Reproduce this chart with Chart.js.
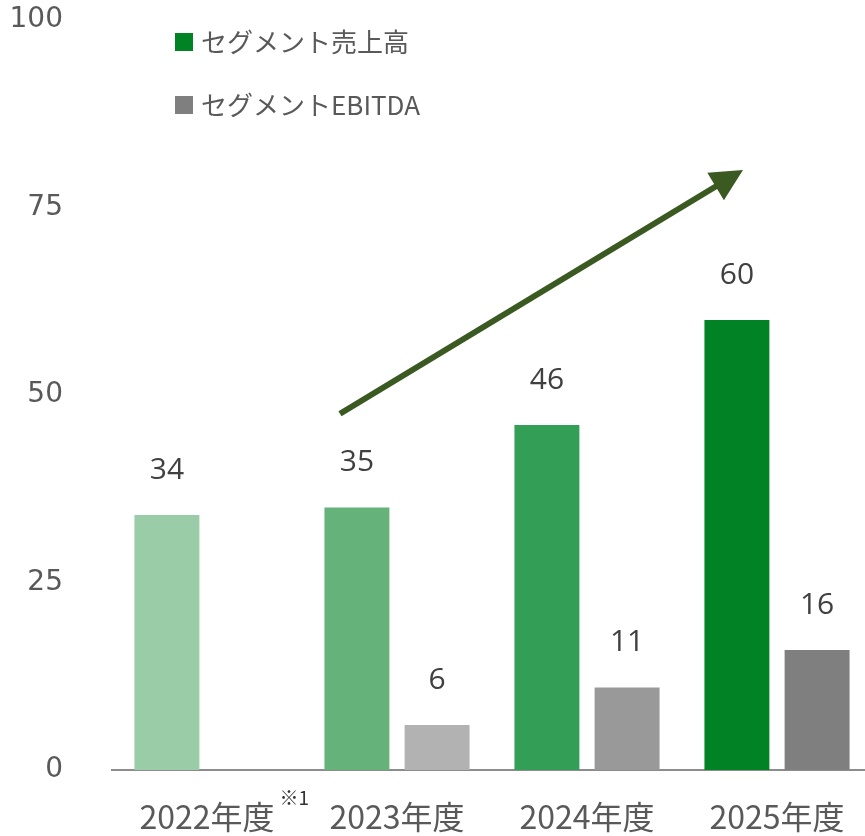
<!DOCTYPE html>
<html lang="ja">
<head>
<meta charset="utf-8">
<title>セグメント売上高・EBITDA</title>
<script src="https://cdn.jsdelivr.net/npm/chart.js@4/dist/chart.umd.min.js"></script>
<style>
  html, body { margin: 0; padding: 0; background: #fff; overflow: hidden; }
  #wrap { position: relative; width: 872px; height: 836px; }
</style>
</head>
<body>
<div id="wrap"><canvas id="myChart"></canvas></div>
<script>
// data
const years = ['2022年度', '2023年度', '2024年度', '2025年度'];
const sales = [34, 35, 46, 60];
const ebitda = [null, 6, 11, 16];
const salesColors = ['#9acca7', '#66b27b', '#339e55', '#008225'];
const ebitdaColors = ['#b2b2b2', '#b2b2b2', '#999999', '#7f7f7f'];
const yTicks = [0, 25, 50, 75, 100];
const footnote = '※1';

const TEXT = '#595959';
const LABEL = '#404040';

// labels above the bars
const valueLabels = {
    id: 'valueLabels',
    afterDatasetsDraw(chart) {
        const ctx = chart.ctx;
        ctx.save();
        ctx.font = '30px "Open Sans"';
        ctx.fillStyle = LABEL;
        ctx.textAlign = 'center';
        ctx.textBaseline = 'middle';
        chart.data.datasets.forEach((ds, i) => {
            const meta = chart.getDatasetMeta(i);
            meta.data.forEach((bar, j) => {
                if (ds.data[j] == null) return;
                ctx.fillText(String(ds.data[j]), bar.x, bar.y - 45);
            });
        });
        ctx.restore();
    }
};

// legend (two rows top-left), arrow and footnote mark
const extras = {
    id: 'extras',
    afterDraw(chart) {
        const ctx = chart.ctx;
        const x = chart.scales.x, y = chart.scales.y;
        ctx.save();

        // legend
        const items = [
            { text: 'セグメント売上高', color: salesColors[3], cy: 42 },
            { text: 'セグメントEBITDA', color: ebitdaColors[3], cy: 105 }
        ];
        ctx.font = '26px "Noto Sans CJK JP"';
        ctx.textBaseline = 'middle';
        ctx.textAlign = 'left';
        items.forEach(it => {
            ctx.fillStyle = it.color;
            ctx.fillRect(175, it.cy - 9, 18, 18);
            ctx.fillStyle = TEXT;
            ctx.fillText(it.text, 201, it.cy);
        });

        // growth arrow
        const x0 = x.getPixelForValue(1) - 57, y0 = y.getPixelForValue(47.5);
        const x1 = x.getPixelForValue(3) - 34, y1 = y.getPixelForValue(80);
        const ang = Math.atan2(y1 - y0, x1 - x0);
        const headLen = 32, headW = 16;
        const bx = x1 - headLen * Math.cos(ang), by = y1 - headLen * Math.sin(ang);
        ctx.strokeStyle = '#3a5a22';
        ctx.fillStyle = '#3a5a22';
        ctx.lineWidth = 6;
        ctx.beginPath();
        ctx.moveTo(x0, y0);
        ctx.lineTo(bx + 2 * Math.cos(ang), by + 2 * Math.sin(ang));
        ctx.stroke();
        ctx.beginPath();
        ctx.moveTo(x1, y1);
        ctx.lineTo(bx + headW * Math.sin(ang), by - headW * Math.cos(ang));
        ctx.lineTo(bx - headW * Math.sin(ang), by + headW * Math.cos(ang));
        ctx.closePath();
        ctx.fill();

        // ※1 next to the first year label
        ctx.font = '32px "Noto Sans CJK JP"';
        const w = ctx.measureText(years[0]).width;
        ctx.font = '19px "Noto Sans CJK JP"';
        ctx.fillStyle = '#333333';
        ctx.textAlign = 'left';
        ctx.fillText(footnote, x.getPixelForValue(0) + w / 2 + 5, 798);

        ctx.restore();
    }
};

function myLoadFunction() {
    const ctx = document.getElementById('myChart').getContext('2d');
    const myChartConfig = {
        type: 'bar',
        data: {
            labels: years,
            datasets: [
                {
                    label: 'セグメント売上高',
                    data: sales,
                    backgroundColor: salesColors,
                    categoryPercentage: 0.844,
                    barPercentage: 0.81
                },
                {
                    label: 'セグメントEBITDA',
                    data: ebitda,
                    backgroundColor: ebitdaColors,
                    categoryPercentage: 0.844,
                    barPercentage: 0.81
                }
            ]
        },
        options: {
            responsive: true,
            maintainAspectRatio: false,
            animation: false,
            layout: { padding: { top: 20, right: 0, bottom: 0, left: 0 } },
            plugins: {
                legend: { display: false },
                tooltip: { enabled: false }
            },
            scales: {
                x: {
                    grid: { display: false, drawTicks: false },
                    border: { display: true, color: '#8c8c8c', width: 2 },
                    ticks: {
                        color: TEXT,
                        font: { family: '"Noto Sans CJK JP"', size: 32 },
                        padding: 28,
                        maxRotation: 0
                    },
                    afterFit(scale) {
                        scale.height = 66;
                        scale.paddingLeft = 0;
                        scale.paddingRight = 0;
                    }
                },
                y: {
                    min: 0,
                    max: 100,
                    grid: { display: false, drawTicks: false },
                    border: { display: false },
                    afterBuildTicks(scale) {
                        scale.ticks = yTicks.map(v => ({ value: v }));
                    },
                    ticks: {
                        color: TEXT,
                        font: { family: '"DejaVu Sans"', size: 28 },
                        padding: 49
                    },
                    afterFit(scale) {
                        scale.width = 112;
                        scale.paddingTop = 0;
                        scale.paddingBottom = 0;
                    }
                }
            }
        },
        plugins: [valueLabels, extras]
    };
    const myChart = new Chart(ctx, myChartConfig);
}

document.addEventListener('DOMContentLoaded', myLoadFunction);
</script>
</body>
</html>
